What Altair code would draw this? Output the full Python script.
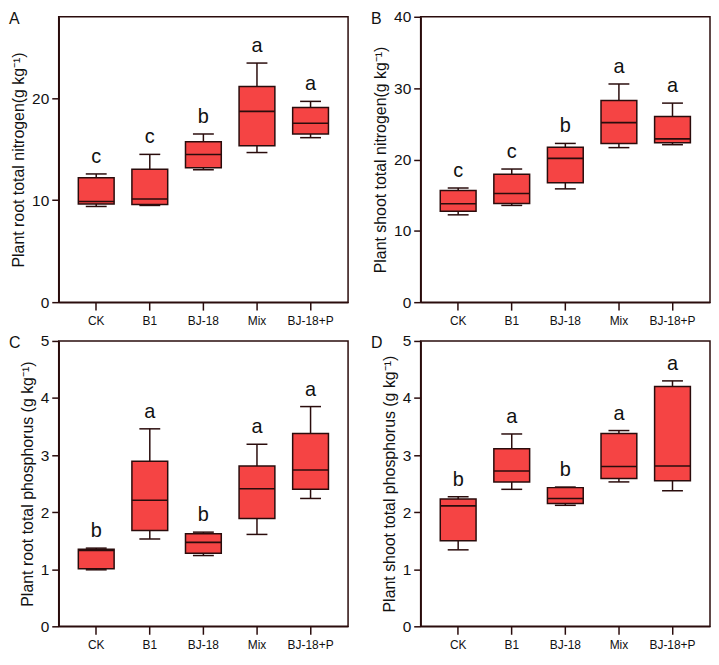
import altair as alt
import pandas as pd

groups = ["CK", "B1", "BJ-18", "Mix", "BJ-18+P"]

# Panel A: Plant root total nitrogen
a_lw = [9.39, 9.49, 12.99, 14.68, 16.14]
a_q1 = [9.62, 9.58, 13.18, 15.35, 16.50]
a_med = [9.87, 10.12, 14.49, 18.72, 17.55]
a_q3 = [12.20, 13.05, 15.73, 21.17, 19.10]
a_uw = [12.58, 14.50, 16.50, 23.46, 19.70]
a_let = ["c", "c", "b", "a", "a"]

# Panel B: Plant shoot total nitrogen
b_lw = [12.24, 13.56, 15.88, 21.66, 22.07]
b_q1 = [12.74, 13.83, 16.75, 22.25, 22.34]
b_med = [13.79, 15.24, 20.16, 25.16, 22.89]
b_q3 = [15.65, 17.93, 21.70, 28.26, 26.03]
b_uw = [16.00, 18.66, 22.25, 30.58, 27.90]
b_let = ["c", "c", "b", "a", "a"]

# Panel C: Plant root total phosphorus
c_lw = [0.99, 1.53, 1.24, 1.61, 2.24]
c_q1 = [1.01, 1.68, 1.28, 1.89, 2.40]
c_med = [1.33, 2.21, 1.47, 2.41, 2.74]
c_q3 = [1.35, 2.89, 1.62, 2.81, 3.38]
c_uw = [1.37, 3.46, 1.65, 3.19, 3.85]
c_let = ["b", "a", "b", "a", "a"]

# Panel D: Plant shoot total phosphorus
d_lw = [1.34, 2.40, 2.12, 2.53, 2.375]
d_q1 = [1.50, 2.53, 2.15, 2.59, 2.55]
d_med = [2.11, 2.72, 2.24, 2.80, 2.81]
d_q3 = [2.23, 3.11, 2.43, 3.38, 4.20]
d_uw = [2.27, 3.37, 2.44, 3.43, 4.30]
d_let = ["b", "a", "b", "a", "a"]

RED = "#F54444"
DARK = "#2a0c0c"
FONT = "Liberation Sans"
W, H = 291, 287


def panel(label, ytitle, lw, q1, med, q3, uw, letters, ymax, yticks):
    df = pd.DataFrame({"group": groups, "lw": lw, "q1": q1, "med": med,
                       "q3": q3, "uw": uw, "letter": letters})
    yscale = alt.Scale(domain=[0, ymax], nice=False, zero=True)
    xenc = alt.X("group:N", sort=groups,
                 scale=alt.Scale(paddingOuter=0.2, paddingInner=0),
                 axis=alt.Axis(title=None, labelAngle=0, labelFontSize=12,
                               labelPadding=5, tickSize=8, labelFont=FONT,
                               labelColor="#111"))
    base = alt.Chart(df).encode(x=xenc)
    whisk = base.mark_rule(color=DARK, strokeWidth=1.5).encode(
        y=alt.Y("lw:Q", scale=yscale,
                axis=alt.Axis(title=ytitle, values=yticks, grid=False, format="d",
                              labelFontSize=15.5, titleFontSize=16,
                              titleFontWeight="normal", titleFont=FONT,
                              labelFont=FONT, tickSize=7, labelPadding=3,
                              titlePadding=5, labelColor="#111",
                              titleColor="#111")),
        y2="uw:Q")
    cap_hi = base.mark_tick(size=21, thickness=1.5, color=DARK, opacity=1).encode(y="uw:Q")
    cap_lo = base.mark_tick(size=21, thickness=1.5, color=DARK, opacity=1).encode(y="lw:Q")
    box = base.mark_bar(size=36, fill=RED, stroke=DARK, strokeWidth=1.5).encode(
        y="q1:Q", y2="q3:Q")
    median = base.mark_tick(size=36, thickness=1.6, color=DARK, opacity=1).encode(y="med:Q")
    lets = base.mark_text(dy=-17, baseline="middle", fontSize=20, font=FONT,
                          color="#111").encode(y="uw:Q", text="letter:N")
    lab = alt.Chart(pd.DataFrame({"t": [label]})).mark_text(
        align="left", baseline="alphabetic", fontSize=16, font=FONT, color="#111"
    ).encode(x=alt.value(-50), y=alt.value(7), text="t:N")
    return alt.layer(whisk, cap_hi, cap_lo, box, median, lets, lab).properties(
        width=W, height=H)


pA = panel("A", "Plant root total nitrogen(g kg⁻¹)", a_lw, a_q1, a_med, a_q3, a_uw,
           a_let, 28, [0, 10, 20])
pB = panel("B", "Plant shoot total nitrogen(g kg⁻¹)", b_lw, b_q1, b_med, b_q3, b_uw,
           b_let, 40, [0, 10, 20, 30, 40])
pC = panel("C", "Plant root total phosphorus (g kg⁻¹)", c_lw, c_q1, c_med, c_q3, c_uw,
           c_let, 5, [0, 1, 2, 3, 4, 5])
pD = panel("D", "Plant shoot total phosphorus (g kg⁻¹)", d_lw, d_q1, d_med, d_q3, d_uw,
           d_let, 5, [0, 1, 2, 3, 4, 5])

chart = alt.concat(pA, pB, pC, pD, columns=2,
                   spacing={"row": 6, "column": 21}).properties(
    padding={"left": 0, "top": -1, "right": 0, "bottom": 0}
).configure_view(stroke=DARK, strokeWidth=1.5).configure_axis(
    domainColor=DARK, domainWidth=1.5, tickColor=DARK, tickWidth=1.5
)

chart.save("out.html", embed_options={"renderer": "svg", "actions": False})
